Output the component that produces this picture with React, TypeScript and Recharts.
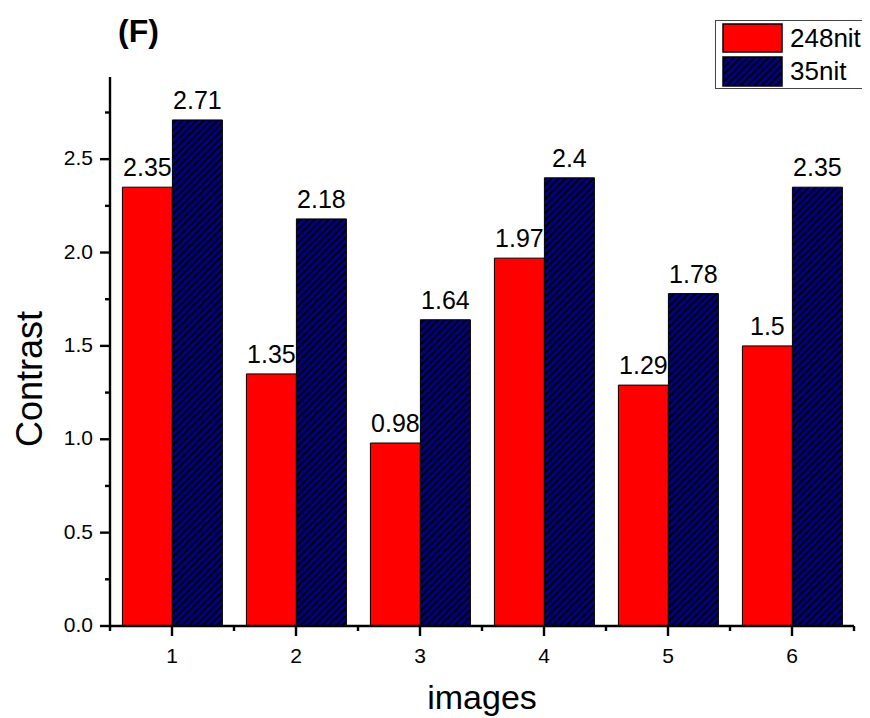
import React from 'react';
import { BarChart, Bar, XAxis, YAxis, Legend, LabelList } from 'recharts';

const categories = ['1', '2', '3', '4', '5', '6'];
const nit248 = [2.35, 1.35, 0.98, 1.97, 1.29, 1.5];
const nit35 = [2.71, 2.18, 1.64, 2.4, 1.78, 2.35];
const yTicks = [0, 0.5, 1, 1.5, 2, 2.5];
const Y_MAX = 2.94;

const data = categories.map((c, i) => ({ image: c, nit248: nit248[i], nit35: nit35[i] }));

const W = 862;
const H = 710;
const MARGIN = { top: 69, right: 16, bottom: 0, left: 0 };
const Y_W = 102;
const X_H = 92;
const BAND = (W - MARGIN.left - MARGIN.right - Y_W) / categories.length;
const PLOT_H = H - MARGIN.top - MARGIN.bottom - X_H;
const FONT = '"Liberation Sans", Arial, Helvetica, sans-serif';
const MAJOR = 10;
const MINOR = 5;
const TW = 2.4; // tick thickness

// x/y here are offset by MAJOR from the axis line (tickSize = MAJOR, tickMargin = 0)
const XTick = (props: any) => {
  const { x, y, payload, index } = props;
  const half = BAND / 2;
  const axisY = y - MAJOR;
  return (
    <g>
      <rect x={x - TW / 2} y={axisY} width={TW} height={MAJOR} fill="#000" />
      <rect x={x + half - TW / 2} y={axisY} width={TW} height={MINOR} fill="#000" />
      {index === 0 && <rect x={x - half - TW / 2} y={axisY} width={TW} height={MINOR} fill="#000" />}
      <text x={x} y={y + 27} textAnchor="middle" fontSize={21} fontFamily={FONT} fill="#000">
        {payload.value}
      </text>
    </g>
  );
};

// minor tick sits a quarter unit above each major one
const YTick = (props: any) => {
  const { x, y, payload } = props;
  const axisX = x + MAJOR;
  const my = y - (0.25 * PLOT_H) / Y_MAX;
  return (
    <g>
      <rect x={axisX - MAJOR} y={y - TW / 2} width={MAJOR} height={TW} fill="#000" />
      <rect x={axisX - MINOR} y={my - TW / 2} width={MINOR} height={TW} fill="#000" />
      <text x={x - 7} y={y + 6} textAnchor="end" fontSize={21} fontFamily={FONT} fill="#000">
        {payload.value.toFixed(1)}
      </text>
    </g>
  );
};

const BarValue = (props: any) => {
  const { x, y, width, value } = props;
  return (
    <text x={x + width / 2} y={y - 11} textAnchor="middle" fontSize={25} fontFamily={FONT} fill="#000">
      {String(value)}
    </text>
  );
};

const Hatch = ({ id }: { id: string }) => (
  <pattern id={id} patternUnits="userSpaceOnUse" width={7} height={7}>
    <rect width={7} height={7} fill="#000080" />
    <path d="M-1,1 l2,-2 M0,7 l7,-7 M6,8 l2,-2" stroke="#000" strokeWidth={1.8} />
  </pattern>
);

const LegendBox = () => (
  <svg width={155} height={70} style={{ display: 'block' }}>
    <defs>
      <Hatch id="hatchLegend" />
    </defs>
    <rect x={0.5} y={0.5} width={170} height={68} fill="#fff" stroke="#444" strokeWidth={1} />
    <rect x={8} y={4} width={59} height={28} fill="#ff0000" stroke="#000" strokeWidth={1.5} />
    <rect x={8} y={37} width={59} height={29} fill="url(#hatchLegend)" stroke="#000" strokeWidth={1.5} />
    <text x={75} y={27} fontSize={26} fontFamily={FONT} fill="#000">248nit</text>
    <text x={75} y={60} fontSize={26} fontFamily={FONT} fill="#000">35nit</text>
  </svg>
);

export default function App() {
  return (
    <div style={{ width: W, height: H, overflow: 'hidden' }}>
      <BarChart width={W} height={H} data={data} margin={MARGIN} barCategoryGap="10%" barGap={0}>
        <defs>
          <Hatch id="hatch" />
        </defs>
        <XAxis
          dataKey="image"
          height={X_H}
          interval={0}
          tickSize={MAJOR}
          tickMargin={0}
          tickLine={false}
          axisLine={{ stroke: '#000', strokeWidth: TW }}
          tick={<XTick />}
        />
        <YAxis
          width={Y_W}
          domain={[0, Y_MAX]}
          ticks={yTicks}
          interval={0}
          tickSize={MAJOR}
          tickMargin={0}
          tickLine={false}
          axisLine={{ stroke: '#000', strokeWidth: TW }}
          tick={<YTick />}
        />
        <Legend
          layout="horizontal"
          verticalAlign="middle"
          align="center"
          wrapperStyle={{ position: 'absolute', left: 707, top: 12, width: 155, height: 70 }}
          content={() => <LegendBox />}
        />
        <Bar dataKey="nit248" name="248nit" fill="#ff0000" stroke="#000" strokeWidth={1} isAnimationActive={false}>
          <LabelList dataKey="nit248" content={<BarValue />} />
        </Bar>
        <Bar dataKey="nit35" name="35nit" fill="url(#hatch)" stroke="#000" strokeWidth={1} isAnimationActive={false}>
          <LabelList dataKey="nit35" content={<BarValue />} />
        </Bar>
        <text x={110} y={34} fontSize={32} fontWeight="bold" fontFamily={FONT} fill="#000">(F)</text>
        <text
          x={34}
          y={371}
          transform="rotate(-90, 34, 371)"
          textAnchor="middle"
          fontSize={36}
          fontFamily={FONT}
          fill="#000"
        >
          Contrast
        </text>
        <text x={474} y={701} textAnchor="middle" fontSize={34} fontFamily={FONT} fill="#000">
          images
        </text>
      </BarChart>
    </div>
  );
}
